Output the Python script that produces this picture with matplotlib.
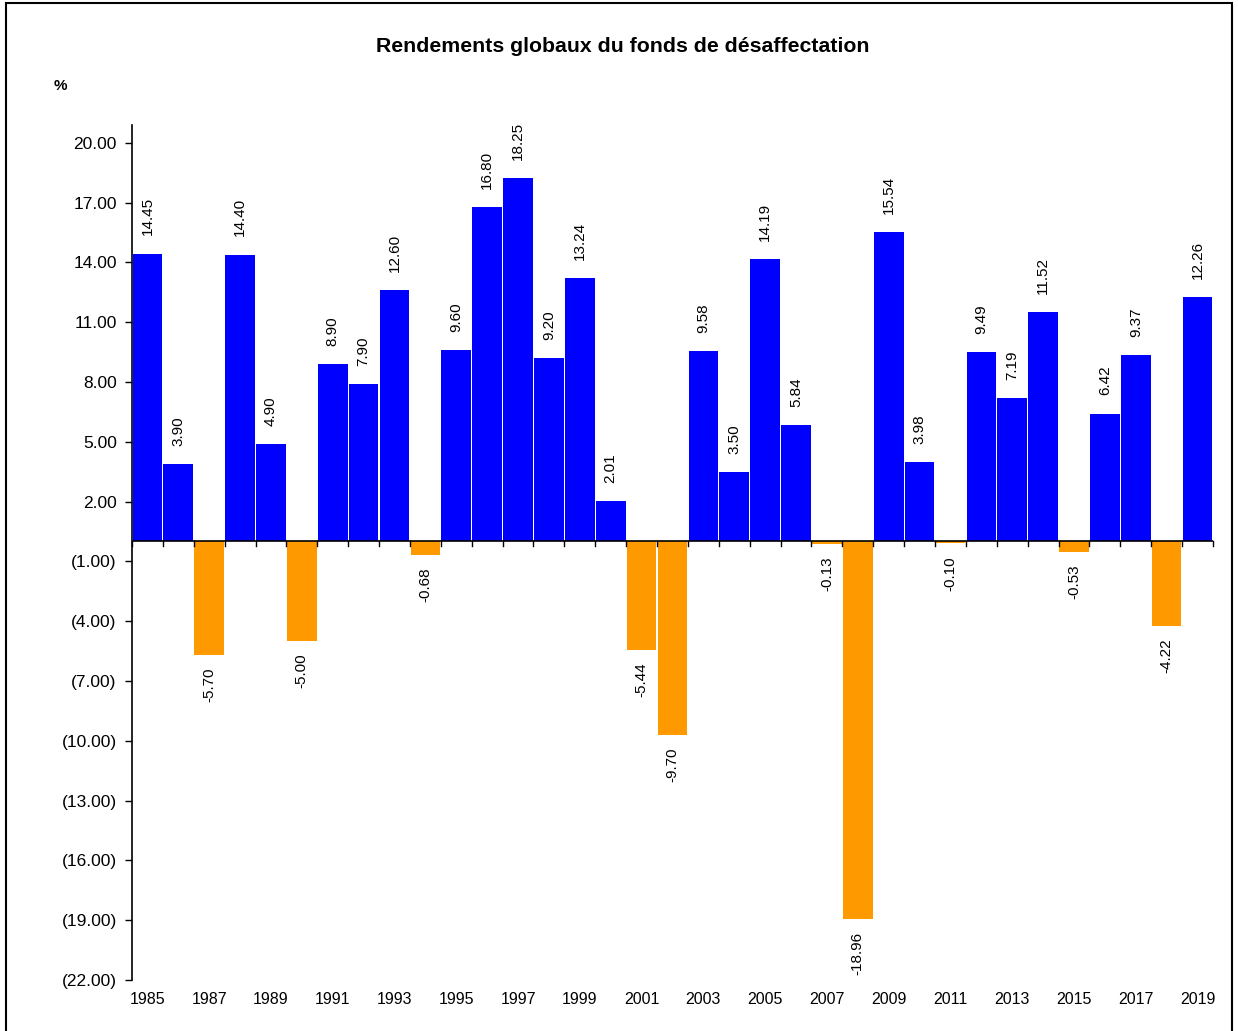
import numpy as np
import matplotlib.pyplot as plt
from matplotlib.ticker import FixedLocator, FuncFormatter
from matplotlib.patches import Rectangle

plt.rcParams['font.family'] = ['Liberation Sans', 'DejaVu Sans']

# données
years = list(range(1985, 2020))
rendements = [14.45, 3.90, -5.70, 14.40, 4.90, -5.00, 8.90, 7.90, 12.60, -0.68,
              9.60, 16.80, 18.25, 9.20, 13.24, 2.01, -5.44, -9.70, 9.58, 3.50,
              14.19, 5.84, -0.13, -18.96, 15.54, 3.98, -0.10, 9.49, 7.19, 11.52,
              -0.53, 6.42, 9.37, -4.22, 12.26]
y_ticks = list(range(20, -23, -3))
x_labels = [str(y) for y in years[::2]]

BLEU = '#0000FF'
ORANGE = '#FF9900'


def fmt_y(v, pos):
    """format comptable : négatifs entre parenthèses"""
    if v < 0:
        return '(%.2f)' % abs(v)
    return '%.2f' % v


fig = plt.figure(figsize=(12.38, 10.31), dpi=100)
ax = fig.add_axes([0.1066, 0.0495, 0.8732, 0.8293])

x = np.arange(len(years))
vals = np.array(rendements)
couleurs = [BLEU if v >= 0 else ORANGE for v in vals]
ax.bar(x, vals, width=0.96, color=couleurs, edgecolor='none', zorder=2)

# étiquettes des valeurs
for xi, v in zip(x, vals):
    if v >= 0:
        ax.annotate('%.2f' % v, (xi, v), xytext=(0, 13), textcoords='offset points',
                    rotation=90, ha='center', va='bottom', fontsize=11)
    else:
        ax.annotate('%.2f' % v, (xi, v), xytext=(0, -9), textcoords='offset points',
                    rotation=90, ha='center', va='top', fontsize=11)

ax.set_xlim(-0.5, len(years) - 0.5)
ax.set_ylim(-22, 20.9)

ax.yaxis.set_major_locator(FixedLocator(y_ticks))
ax.yaxis.set_major_formatter(FuncFormatter(fmt_y))
ax.tick_params(axis='y', direction='out', length=5, width=1, labelsize=12.5, pad=6)

# axe x : ligne à zéro avec petits traits aux limites des barres
ax.axhline(0, color='black', lw=1.2, zorder=3)
for b in np.arange(-0.5, len(years), 1.0):
    ax.plot([b, b], [0, -0.25], color='black', lw=1, zorder=3, clip_on=False)

ax.set_xticks(x[::2])
ax.set_xticklabels(x_labels, fontsize=11.5)
ax.tick_params(axis='x', length=0, pad=9)

for s in ['top', 'right', 'bottom']:
    ax.spines[s].set_visible(False)
ax.spines['left'].set_linewidth(1.2)

fig.text(0.503, 0.955, 'Rendements globaux du fonds de désaffectation',
         ha='center', va='center', fontsize=15.3, fontweight='bold')
fig.text(0.049, 0.917, '%', ha='center', va='center', fontsize=11, fontweight='bold')

# cadre autour de la figure
fig.patches.append(Rectangle((0.005, -0.01), 0.99, 1.007, transform=fig.transFigure,
                             fill=False, edgecolor='black', lw=1.5))

fig.savefig('out.png', dpi=100)
